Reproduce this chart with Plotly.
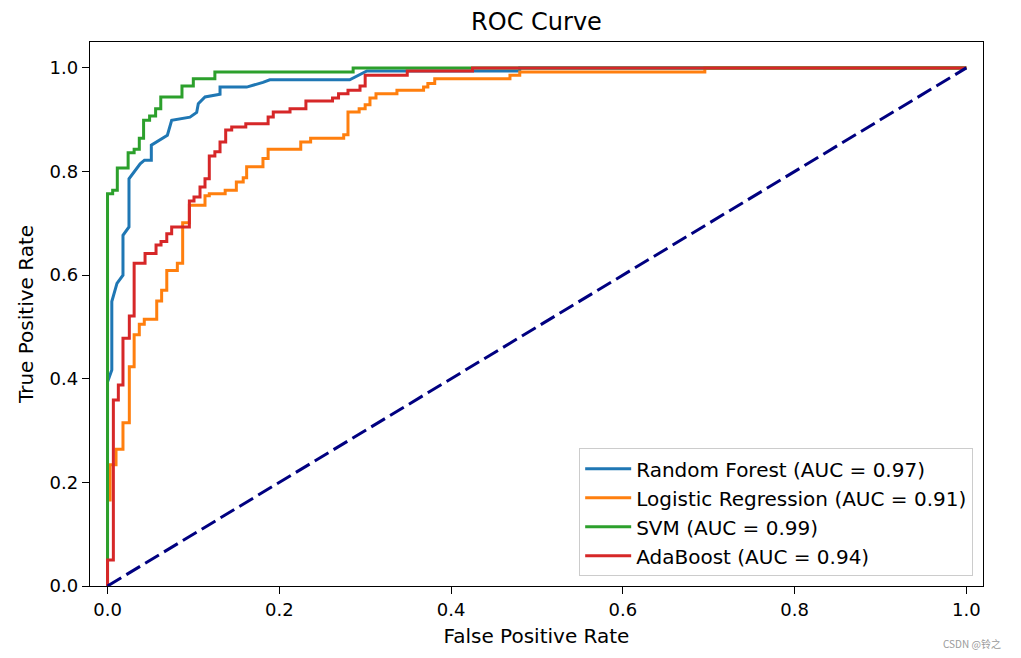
import plotly.graph_objects as go

# ---- data ----
rf_fpr = [0, 0, 0.005, 0.005, 0.011, 0.018, 0.018, 0.025, 0.025, 0.038, 0.043, 0.051, 0.051, 0.0697, 0.0747,
          0.096, 0.1038, 0.1057, 0.1135, 0.131, 0.131, 0.162, 0.181, 0.189, 0.282, 0.302, 0.48, 0.48, 1.0]
rf_tpr = [0, 0.394, 0.417, 0.549, 0.584, 0.600, 0.677, 0.693, 0.786, 0.815, 0.822, 0.822, 0.851, 0.870, 0.899,
          0.905, 0.914, 0.931, 0.944, 0.949, 0.963, 0.963, 0.972, 0.977, 0.977, 0.994, 0.994, 1.0, 1.0]

lr_fpr = [0, 0, 0.003, 0.003, 0.0099, 0.0099, 0.018, 0.018, 0.0254, 0.0254, 0.031, 0.031, 0.037, 0.037, 0.0428,
          0.0428, 0.0573, 0.0573, 0.063, 0.063, 0.069, 0.069, 0.0813, 0.0813, 0.0875, 0.0875, 0.0953, 0.0953,
          0.1135, 0.1135, 0.1185, 0.1185, 0.137, 0.137, 0.150, 0.150, 0.158, 0.158, 0.162, 0.162, 0.181, 0.181,
          0.187, 0.187, 0.225, 0.225, 0.2365, 0.2365, 0.275, 0.275, 0.280, 0.280, 0.293, 0.293, 0.300, 0.300,
          0.3056, 0.3056, 0.3126, 0.3126, 0.337, 0.337, 0.368, 0.368, 0.373, 0.373, 0.381, 0.381, 0.4686, 0.4686,
          0.480, 0.480, 0.6955, 0.6955, 1.0]
lr_tpr = [0, 0.166, 0.166, 0.234, 0.234, 0.264, 0.264, 0.315, 0.315, 0.423, 0.423, 0.485, 0.485, 0.505, 0.505,
          0.515, 0.515, 0.550, 0.550, 0.571, 0.571, 0.609, 0.609, 0.623, 0.623, 0.701, 0.701, 0.735,
          0.735, 0.753, 0.753, 0.757, 0.757, 0.764, 0.764, 0.780, 0.780, 0.788, 0.788, 0.809, 0.809, 0.825,
          0.825, 0.843, 0.843, 0.857, 0.857, 0.864, 0.864, 0.871, 0.871, 0.915, 0.915, 0.921, 0.921, 0.929,
          0.929, 0.942, 0.942, 0.950, 0.950, 0.957, 0.957, 0.963, 0.963, 0.970, 0.970, 0.979, 0.979, 0.986,
          0.986, 0.992, 0.992, 1.0, 1.0]

svm_fpr = [0, 0, 0.006, 0.006, 0.0114, 0.0114, 0.024, 0.024, 0.031, 0.031, 0.037, 0.037, 0.042, 0.042, 0.049,
           0.049, 0.056, 0.056, 0.062, 0.062, 0.0867, 0.0867, 0.0999, 0.0999, 0.125, 0.125, 0.286, 0.286, 1.0]
svm_tpr = [0, 0.757, 0.757, 0.764, 0.764, 0.807, 0.807, 0.836, 0.836, 0.843, 0.843, 0.864, 0.864, 0.899, 0.899,
           0.907, 0.907, 0.921, 0.921, 0.944, 0.944, 0.965, 0.965, 0.979, 0.979, 0.992, 0.992, 1.0, 1.0]

ada_fpr = [0, 0, 0.0068, 0.0068, 0.0126, 0.0126, 0.018, 0.018, 0.0254, 0.0254, 0.031, 0.031, 0.0437, 0.0437,
           0.0565, 0.0565, 0.0623, 0.0623, 0.069, 0.069, 0.0747, 0.0747, 0.0953, 0.0953, 0.1007, 0.1007, 0.1077,
           0.1077, 0.1135, 0.1135, 0.1185, 0.1185, 0.125, 0.125, 0.131, 0.131, 0.1376, 0.1376, 0.1446, 0.1446,
           0.161, 0.161, 0.187, 0.187, 0.193, 0.193, 0.2125, 0.2125, 0.231, 0.231, 0.262, 0.262, 0.269, 0.269,
           0.280, 0.280, 0.294, 0.294, 0.300, 0.300, 0.349, 0.349, 0.425, 0.425, 1.0]
ada_tpr = [0, 0.05, 0.05, 0.359, 0.359, 0.388, 0.388, 0.478, 0.478, 0.521, 0.521, 0.623, 0.623, 0.642,
           0.642, 0.658, 0.658, 0.665, 0.665, 0.680, 0.680, 0.693, 0.693, 0.743, 0.743, 0.751, 0.751,
           0.770, 0.770, 0.786, 0.786, 0.830, 0.830, 0.838, 0.838, 0.857, 0.857, 0.880, 0.880, 0.886,
           0.886, 0.892, 0.892, 0.905, 0.905, 0.915, 0.915, 0.921, 0.921, 0.936, 0.936, 0.942, 0.942, 0.950,
           0.950, 0.957, 0.957, 0.965, 0.965, 0.986, 0.986, 0.994, 0.994, 1.0, 1.0]

model_names = ["Random Forest", "Logistic Regression", "SVM", "AdaBoost"]
model_auc = [0.97, 0.91, 0.99, 0.94]
fprs = [rf_fpr, lr_fpr, svm_fpr, ada_fpr]
tprs = [rf_tpr, lr_tpr, svm_tpr, ada_tpr]
colors = ["#1f77b4", "#ff7f0e", "#2ca02c", "#d62728"]

diag = [0, 1]
xticks = [0.0, 0.2, 0.4, 0.6, 0.8, 1.0]
yticks = [0.0, 0.2, 0.4, 0.6, 0.8, 1.0]

FONT = "DejaVu Sans"

fig = go.Figure()
for name, auc, fx, ty, c in zip(model_names, model_auc, fprs, tprs, colors):
    fig.add_trace(go.Scatter(x=fx, y=ty, mode="lines", name=f"{name} (AUC = {auc:.2f})",
                             line=dict(color=c, width=3)))
fig.add_trace(go.Scatter(x=diag, y=diag, mode="lines", showlegend=False,
                         line=dict(color="#000080", width=3, dash="16px,6px")))

axis_common = dict(showline=True, linecolor="black", linewidth=1.3, mirror=True,
                   ticks="outside", ticklen=7, tickwidth=1.3, tickcolor="black",
                   showgrid=False, zeroline=False, tickformat=".1f",
                   tickfont=dict(family=FONT, size=18, color="black"))

# the page body adds an 8px offset, so the figure is 8px smaller and margins compensate
fig.update_layout(
    width=1013, height=650,
    margin=dict(l=82, r=38, t=34, b=72, autoexpand=False),
    paper_bgcolor="white", plot_bgcolor="white",
    font=dict(family=FONT, color="black"),
    title=dict(text="ROC Curve", x=0.5, xref="paper", xanchor="center",
               y=1, yref="paper", yanchor="bottom", pad=dict(b=12),
               font=dict(family=FONT, size=24, color="black")),
    xaxis=dict(range=[-0.0204, 1.0194], tickvals=xticks,
               title=dict(text="False Positive Rate", standoff=10,
                          font=dict(family=FONT, size=20, color="black")),
               **axis_common),
    yaxis=dict(range=[0, 1.05], tickvals=yticks,
               title=dict(text="True Positive Rate", standoff=10,
                          font=dict(family=FONT, size=20, color="black")),
               **axis_common),
    legend=dict(x=0.989, y=0.018, xanchor="right", yanchor="bottom",
                bgcolor="rgba(255,255,255,0.8)", bordercolor="#cccccc", borderwidth=1,
                font=dict(family=FONT, size=20, color="black"), itemwidth=46,
                tracegroupgap=0),
    showlegend=True,
)

fig.add_annotation(text="CSDN @铃之", xref="paper", yref="paper", x=1.0224, y=-0.105,
                   xanchor="right", yanchor="middle", showarrow=False,
                   font=dict(family="Noto Sans CJK SC", size=10, color="#9a9a9a"))

fig.write_html("out.html")
